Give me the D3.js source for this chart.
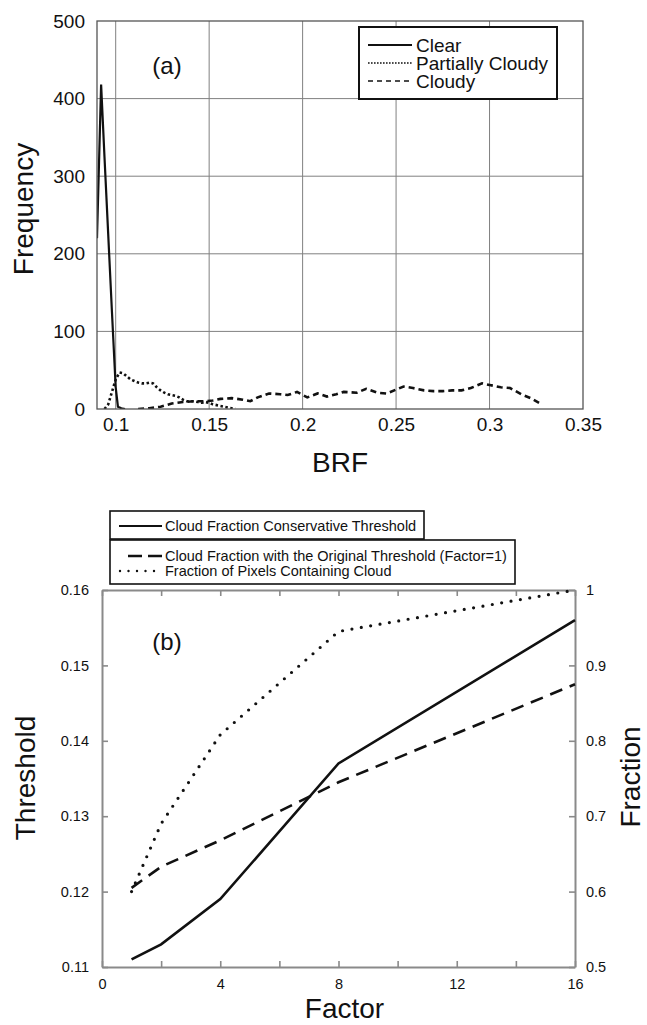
<!DOCTYPE html>
<html>
<head>
<meta charset="utf-8">
<script src="https://cdn.jsdelivr.net/npm/d3@7"></script>
<style>
  body { margin: 0; background: #fff; }
  svg { display: block; font-family: "Liberation Sans", Arial, sans-serif; }
</style>
</head>
<body>
<div id="chart"></div>
<script>
// ---- panel (a): BRF histogram ----
const brfTicks = [0.1, 0.15, 0.2, 0.25, 0.3, 0.35];
const freqTicks = [0, 100, 200, 300, 400, 500];
const clearPts = [[0.0900, 220], [0.0922, 418], [0.0940, 325], [0.0960, 225], [0.0980, 125], [0.1000, 28], [0.1012, 3], [0.1030, 1], [0.1050, 0]];
const partlyPts = [[0.094, 0], [0.096, 6], [0.098, 22], [0.100, 38], [0.102, 47], [0.104, 46], [0.106, 42], [0.108, 38], [0.110, 36], [0.112, 34],
  [0.114, 33], [0.116, 33], [0.118, 34], [0.120, 33], [0.122, 28], [0.124, 24], [0.126, 21], [0.128, 19], [0.130, 18], [0.132, 17],
  [0.134, 15], [0.136, 12], [0.138, 10], [0.140, 10], [0.142, 10], [0.144, 9], [0.146, 8], [0.148, 9], [0.150, 8], [0.152, 6],
  [0.154, 5], [0.156, 4], [0.158, 3], [0.160, 2], [0.162, 1], [0.164, 1]];
const cloudyPts = [[0.112, 0], [0.118, 1], [0.124, 3], [0.130, 7], [0.136, 9], [0.142, 10], [0.148, 10], [0.152, 11], [0.156, 13], [0.162, 14],
  [0.168, 12], [0.172, 10], [0.176, 15], [0.182, 20], [0.188, 19], [0.192, 18], [0.197, 22], [0.2025, 15], [0.208, 20], [0.213, 16],
  [0.218, 19], [0.222, 22], [0.229, 21], [0.234, 26], [0.240, 21], [0.245, 20], [0.251, 26], [0.254, 29], [0.259, 27], [0.265, 24],
  [0.270, 23], [0.275, 23], [0.280, 24], [0.285, 24], [0.290, 27], [0.296, 33], [0.300, 31], [0.306, 28], [0.311, 27], [0.317, 19],
  [0.322, 14], [0.328, 6]];
const legendA = ["Clear", "Partially Cloudy", "Cloudy"];

// ---- panel (b): threshold / fraction vs factor ----
const factors = [1, 2, 4, 8, 16];
const conservative = [0.111, 0.113, 0.119, 0.137, 0.156];
const originalFrac = [0.605, 0.633, 0.668, 0.745, 0.875];
const pixelFrac = [0.600, 0.690, 0.808, 0.945, 1.000];
const factorTicks = [0, 2, 4, 6, 8, 10, 12, 14, 16];
const thresholdTicks = [0.11, 0.12, 0.13, 0.14, 0.15, 0.16];
const fractionTicks = [0.5, 0.6, 0.7, 0.8, 0.9, 1];
const legendB1 = ["Cloud Fraction Conservative Threshold"];
const legendB2 = ["Cloud Fraction with the Original Threshold (Factor=1)", "Fraction of Pixels Containing Cloud"];

const width = 647, height = 1025;
const svg = d3.select("#chart").append("svg").attr("width", width).attr("height", height);

// ================= (a) =================
const A = { left: 97, right: 583, top: 21, bottom: 409 };
const xA = d3.scaleLinear().domain([0.09, 0.35]).range([A.left, A.right]);
const yA = d3.scaleLinear().domain([0, 500]).range([A.bottom, A.top]);

const ga = svg.append("g");
ga.append("rect").attr("x", A.left).attr("y", A.top).attr("width", A.right - A.left).attr("height", A.bottom - A.top)
  .attr("fill", "#fff");

// grid
ga.append("g").selectAll("line").data(brfTicks.slice(0, -1)).join("line")
  .attr("x1", d => xA(d)).attr("x2", d => xA(d)).attr("y1", A.top).attr("y2", A.bottom)
  .attr("stroke", "#808080").attr("stroke-width", 1);
ga.append("g").selectAll("line").data(freqTicks.slice(1, -1)).join("line")
  .attr("x1", A.left).attr("x2", A.right).attr("y1", d => yA(d)).attr("y2", d => yA(d))
  .attr("stroke", "#808080").attr("stroke-width", 1);

ga.append("defs").append("clipPath").attr("id", "clipA").append("rect")
  .attr("x", A.left).attr("y", A.top - 2).attr("width", A.right - A.left).attr("height", A.bottom - A.top + 2);

const lineA = d3.line().x(d => xA(d[0])).y(d => yA(d[1]));
const seriesA = [
  { pts: clearPts, dash: null, w: 2.2 },
  { pts: partlyPts, dash: "2.5,2.5", w: 2.6 },
  { pts: cloudyPts, dash: "6,4", w: 2.6 }
];
ga.append("g").attr("clip-path", "url(#clipA)").selectAll("path").data(seriesA).join("path")
  .attr("d", d => lineA(d.pts)).attr("fill", "none").attr("stroke", "#111")
  .attr("stroke-width", d => d.w).attr("stroke-dasharray", d => d.dash);

ga.append("rect").attr("x", A.left).attr("y", A.top).attr("width", A.right - A.left).attr("height", A.bottom - A.top)
  .attr("fill", "none").attr("stroke", "#555").attr("stroke-width", 1.3);

// axes labels
const axA1 = ga.append("g").attr("transform", `translate(0,${A.bottom})`)
  .call(d3.axisBottom(xA).tickValues(brfTicks).tickSize(0).tickPadding(9).tickFormat(d => String(d)));
const axA2 = ga.append("g").attr("transform", `translate(${A.left},0)`)
  .call(d3.axisLeft(yA).tickValues(freqTicks).tickSize(0).tickPadding(12).tickFormat(d => String(d)));
[axA1, axA2].forEach(ax => {
  ax.select(".domain").remove();
  ax.selectAll("text").attr("font-size", 19).attr("fill", "#111").attr("font-family", null);
});

ga.append("text").attr("x", 340).attr("y", 472).attr("text-anchor", "middle")
  .attr("font-size", 28).attr("fill", "#111").text("BRF");
ga.append("text").attr("transform", "translate(33,209) rotate(-90)").attr("text-anchor", "middle")
  .attr("font-size", 28).attr("fill", "#111").text("Frequency");
ga.append("text").attr("x", 167).attr("y", 74).attr("text-anchor", "middle")
  .attr("font-size", 24).attr("fill", "#111").text("(a)");

// legend (a)
const legA = ga.append("g");
legA.append("rect").attr("x", 359).attr("y", 27).attr("width", 198).attr("height", 72)
  .attr("fill", "#fff").attr("stroke", "#111").attr("stroke-width", 2);
legendA.forEach((name, i) => {
  const yy = 45 + i * 18;
  legA.append("line").attr("x1", 368).attr("x2", 412).attr("y1", yy).attr("y2", yy)
    .attr("stroke", "#111").attr("stroke-width", i === 0 ? 2 : 1.6)
    .attr("stroke-dasharray", i === 0 ? null : (i === 1 ? "1.6,1.4" : "5,4"));
  legA.append("text").attr("x", 416).attr("y", yy + 7).attr("font-size", 19).attr("fill", "#111").text(name);
});

// ================= (b) =================
const B = { left: 102, right: 575, top: 590, bottom: 967 };
const xB = d3.scaleLinear().domain([0, 16]).range([B.left, B.right]);
const yL = d3.scaleLinear().domain([0.11, 0.16]).range([B.bottom, B.top]);
const yR = d3.scaleLinear().domain([0.5, 1]).range([B.bottom, B.top]);
const gb = svg.append("g");
const axisCol = "#8a8a8a";

const styleAxis = (ax, showLabels) => {
  ax.select(".domain").attr("stroke", axisCol).attr("stroke-width", 2);
  ax.selectAll(".tick line").attr("stroke", axisCol).attr("stroke-width", 1.6);
  ax.selectAll("text").attr("font-size", 14.5).attr("fill", "#111").attr("font-family", null);
  if (!showLabels) ax.selectAll("text").remove();
};
styleAxis(gb.append("g").attr("transform", `translate(0,${B.bottom})`)
  .call(d3.axisBottom(xB).tickValues(factorTicks).tickSizeInner(-6).tickSizeOuter(0).tickPadding(12)
    .tickFormat(d => d % 4 === 0 ? String(d) : "")), true);
styleAxis(gb.append("g").attr("transform", `translate(0,${B.top})`)
  .call(d3.axisTop(xB).tickValues(factorTicks).tickSizeInner(-6).tickSizeOuter(0)), false);
styleAxis(gb.append("g").attr("transform", `translate(${B.left},0)`)
  .call(d3.axisLeft(yL).tickValues(thresholdTicks).tickSizeInner(-6).tickSizeOuter(0).tickPadding(13)
    .tickFormat(d => d.toFixed(2))), true);
styleAxis(gb.append("g").attr("transform", `translate(${B.right},0)`)
  .call(d3.axisRight(yR).tickValues(fractionTicks).tickSizeInner(-6).tickSizeOuter(0).tickPadding(11)
    .tickFormat(d => String(d))), true);

const lineL = d3.line().x((d, i) => xB(factors[i])).y(d => yL(d));
const lineR = d3.line().x((d, i) => xB(factors[i])).y(d => yR(d));
gb.append("path").attr("d", lineL(conservative)).attr("fill", "none").attr("stroke", "#111").attr("stroke-width", 2.6);
gb.append("path").attr("d", lineR(originalFrac)).attr("fill", "none").attr("stroke", "#111").attr("stroke-width", 2.6)
  .attr("stroke-dasharray", "13,8").attr("stroke-dashoffset", 0);
gb.append("path").attr("d", lineR(pixelFrac)).attr("fill", "none").attr("stroke", "#111").attr("stroke-width", 3.2)
  .attr("stroke-linecap", "round").attr("stroke-dasharray", "0,9.5");

gb.append("text").attr("x", 167).attr("y", 650).attr("text-anchor", "middle")
  .attr("font-size", 24).attr("fill", "#111").text("(b)");
gb.append("text").attr("x", (B.left + B.right) / 2 + 6).attr("y", 1018).attr("text-anchor", "middle")
  .attr("font-size", 28).attr("fill", "#111").text("Factor");
gb.append("text").attr("transform", "translate(35,778) rotate(-90)").attr("text-anchor", "middle")
  .attr("font-size", 28).attr("fill", "#111").text("Threshold");
gb.append("text").attr("transform", "translate(640,777) rotate(-90)").attr("text-anchor", "middle")
  .attr("font-size", 28).attr("fill", "#111").text("Fraction");

// legend (b)
const legB = gb.append("g");
legB.append("rect").attr("x", 110).attr("y", 511).attr("width", 314).attr("height", 28)
  .attr("fill", "#fff").attr("stroke", "#111").attr("stroke-width", 1.6);
legB.append("line").attr("x1", 119).attr("x2", 162).attr("y1", 526).attr("y2", 526)
  .attr("stroke", "#111").attr("stroke-width", 2);
legB.append("text").attr("x", 165).attr("y", 531).attr("font-size", 14.5).attr("fill", "#111").text(legendB1[0]);

legB.append("rect").attr("x", 110).attr("y", 540).attr("width", 405).attr("height", 44)
  .attr("fill", "#fff").attr("stroke", "#111").attr("stroke-width", 1.6);
legendB2.forEach((name, i) => {
  const yy = 556 + i * 15;
  legB.append("line").attr("x1", i === 0 ? 128 : 120).attr("x2", 162).attr("y1", yy).attr("y2", yy)
    .attr("stroke", "#111").attr("stroke-width", i === 0 ? 2.6 : 2.4)
    .attr("stroke-linecap", i === 0 ? "butt" : "round")
    .attr("stroke-dasharray", i === 0 ? "14,6" : "0,8.5");
  legB.append("text").attr("x", 165).attr("y", yy + 5).attr("font-size", 14.5).attr("fill", "#111").text(name);
});
</script>
</body>
</html>
